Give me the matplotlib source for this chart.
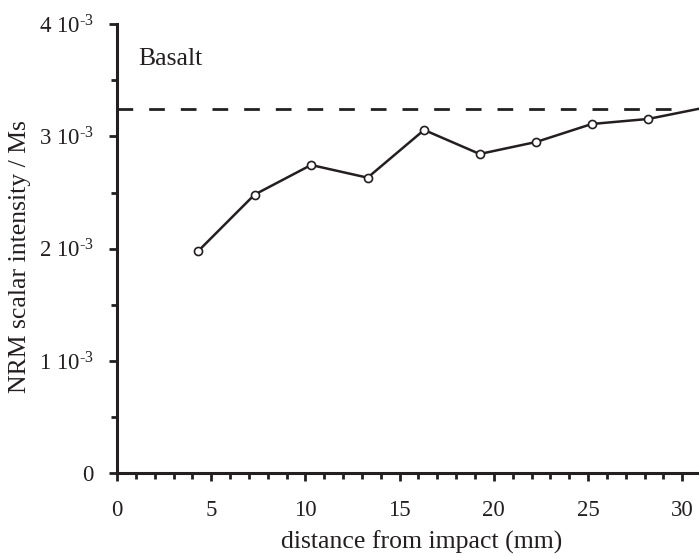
import numpy as np
import matplotlib
matplotlib.use("Agg")
import matplotlib.pyplot as plt
from matplotlib.ticker import MultipleLocator, FixedLocator

plt.rcParams['font.family'] = ['Liberation Serif', 'DejaVu Serif']
plt.rcParams['mathtext.fontset'] = 'custom'
plt.rcParams['mathtext.rm'] = 'Liberation Serif'
plt.rcParams['mathtext.it'] = 'Liberation Serif:italic'
plt.rcParams['lines.scale_dashes'] = False

# data (distance in mm, NRM / Ms)
distance = [4.3, 7.3, 10.3, 13.3, 16.3, 19.25, 22.25, 25.2, 28.2, 31.2]
nrm = [1.977e-3, 2.481e-3, 2.745e-3, 2.632e-3, 3.057e-3,
       2.843e-3, 2.950e-3, 3.110e-3, 3.155e-3, 3.256e-3]
ref_level = 3.247e-3
ref_span = [0, 30]

yticks = [0, 1e-3, 2e-3, 3e-3, 4e-3]
ytick_labels = ['0', r'1 $\mathrm{10}^{\text{-3}}$', r'2 $\mathrm{10}^{\text{-3}}$',
                r'3 $\mathrm{10}^{\text{-3}}$', r'4 $\mathrm{10}^{\text{-3}}$']
xticks = [0, 5, 10, 15, 20, 25, 30]

ink = '#231f20'

fig = plt.figure(figsize=(6.99, 5.56), dpi=100)
ax = fig.add_axes([0.1674, 0.1487, 0.8326, 0.8081])

ax.plot(ref_span, [ref_level, ref_level], color=ink, lw=2.0, dashes=(11.3, 11.5))
ax.plot(distance, nrm, color=ink, lw=1.8, marker='o', ms=5.8,
        mfc='white', mec=ink, mew=1.2, zorder=3)

ax.set_xlim(0, 30.89)
ax.set_ylim(0, 4e-3)

for s in ['top', 'right']:
    ax.spines[s].set_visible(False)
for s in ['left', 'bottom']:
    ax.spines[s].set_linewidth(2.2)
    ax.spines[s].set_color(ink)

ax.xaxis.set_major_locator(FixedLocator(xticks))
ax.xaxis.set_minor_locator(MultipleLocator(1))
ax.set_xticklabels([str(t) for t in xticks])
ax.yaxis.set_major_locator(FixedLocator(yticks))
ax.yaxis.set_minor_locator(MultipleLocator(0.5e-3))
ax.set_yticklabels(ytick_labels)

ax.tick_params(axis='x', which='major', direction='out', length=6, width=2, pad=13,
               labelsize=16.5, colors=ink)
ax.tick_params(axis='x', which='minor', direction='out', length=4.5, width=2, colors=ink)
ax.tick_params(axis='y', which='major', direction='out', length=6, width=2, pad=11,
               labelsize=16.5, colors=ink)
ax.tick_params(axis='y', which='minor', direction='out', length=4, width=2, colors=ink)

ax.set_xlabel('distance from impact (mm)', fontsize=18.5, color=ink)
ax.xaxis.set_label_coords(0.523, -0.128)
ax.set_ylabel('NRM scalar intensity / Ms', fontsize=18.5, color=ink)
ax.yaxis.set_label_coords(-0.147, 0.482)

ax.text(1.11, 3.636e-3, 'Basalt', fontsize=18.5, color=ink, ha='left', va='baseline')

fig.savefig('out.png', dpi=100)
